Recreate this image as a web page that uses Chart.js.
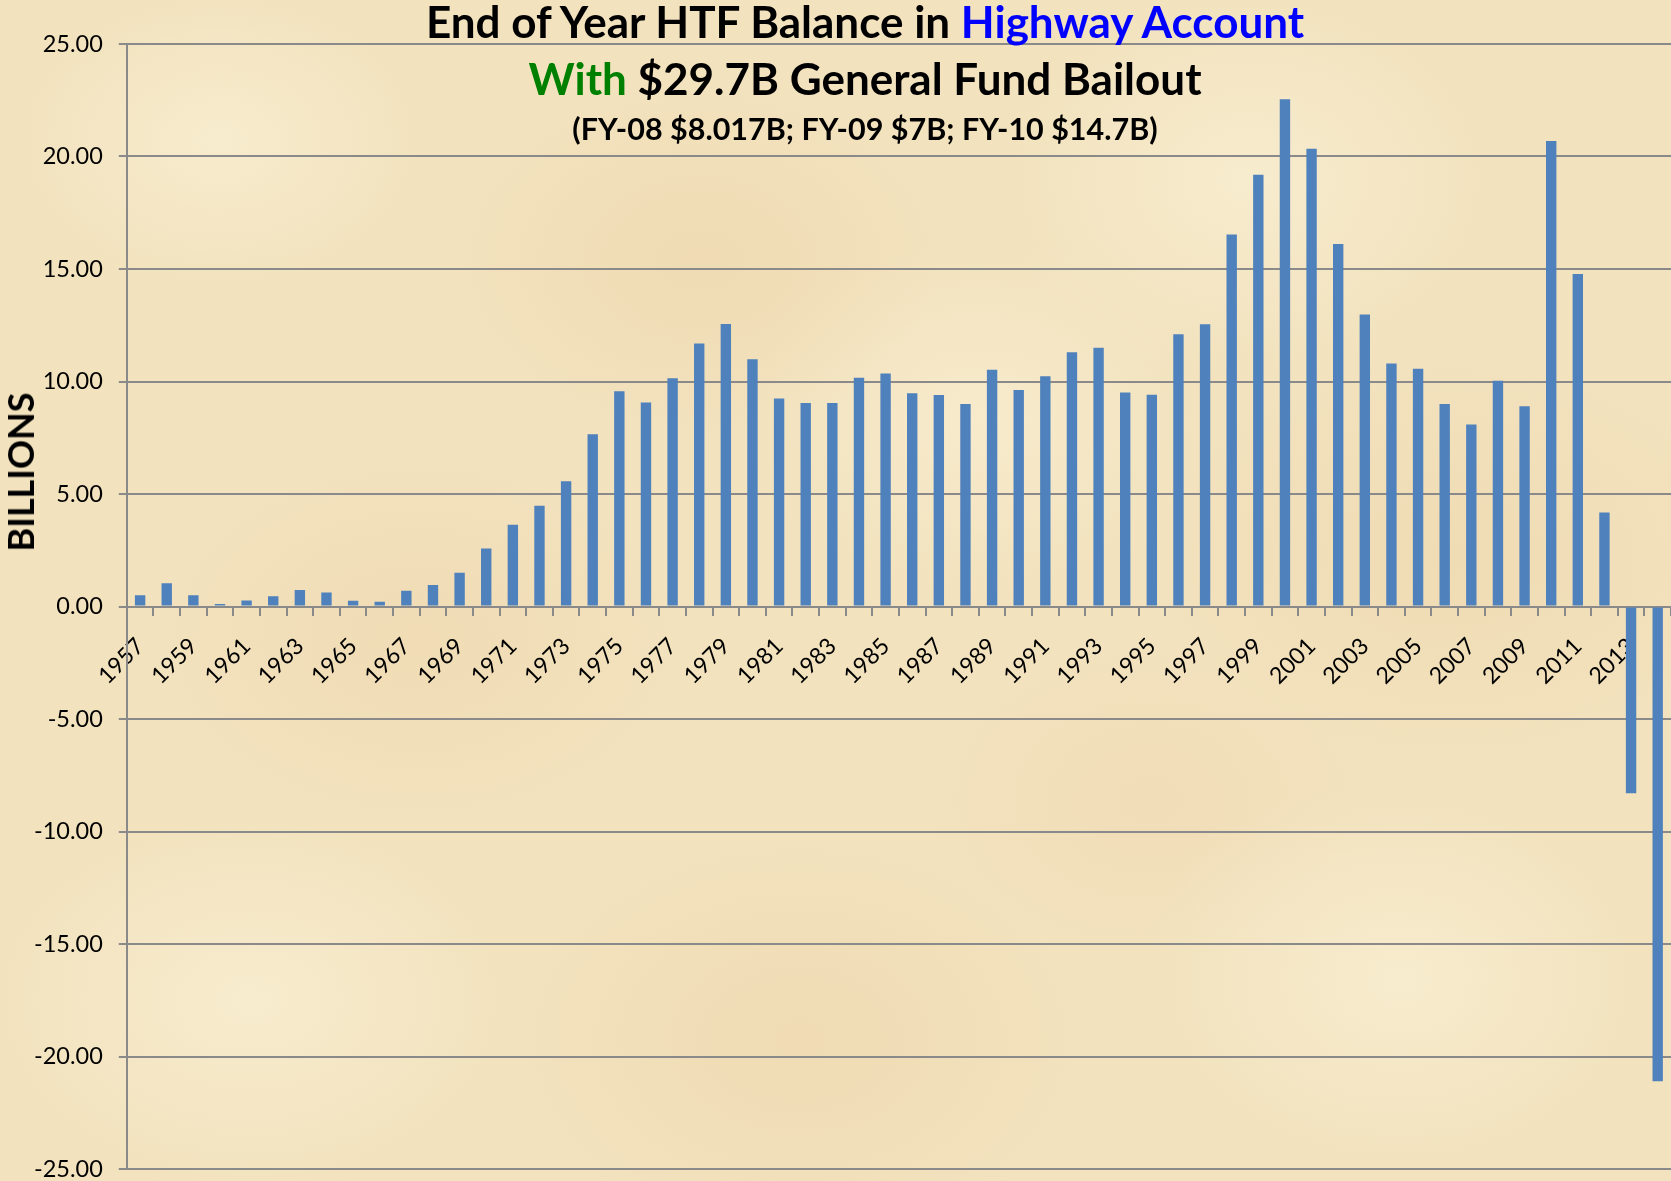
<!DOCTYPE html>
<html>
<head>
<meta charset="utf-8">
<script src="https://cdn.jsdelivr.net/npm/chart.js@4.4.1/dist/chart.umd.min.js"></script>
<style>
  html, body { margin: 0; padding: 0; }
  body {
    width: 1671px; height: 1181px; overflow: hidden;
    background-color: #f2e2bd;
    background-image:
      radial-gradient(ellipse 220px 160px at 220px 140px, rgba(248,237,208,0.9), transparent),
      radial-gradient(ellipse 240px 170px at 700px 260px, rgba(236,210,166,0.45), transparent),
      radial-gradient(ellipse 260px 200px at 1250px 180px, rgba(248,237,208,0.9), transparent),
      radial-gradient(ellipse 260px 180px at 420px 640px, rgba(238,212,170,0.45), transparent),
      radial-gradient(ellipse 240px 180px at 980px 420px, rgba(248,236,206,0.9), transparent),
      radial-gradient(ellipse 300px 200px at 1450px 560px, rgba(236,210,166,0.4), transparent),
      radial-gradient(ellipse 280px 200px at 250px 1000px, rgba(248,237,208,0.9), transparent),
      radial-gradient(ellipse 280px 200px at 800px 1040px, rgba(237,211,168,0.45), transparent),
      radial-gradient(ellipse 260px 200px at 1400px 980px, rgba(248,237,208,0.9), transparent),
      radial-gradient(ellipse 220px 160px at 1150px 800px, rgba(240,214,178,0.4), transparent);
    position: relative;
  }
  #wrap { position: absolute; left: 0; top: 0; width: 1671px; height: 1181px; }
  .ttl {
    position: absolute; transform: translate(-50%, -50%);
    white-space: nowrap; font-family: Lato, "Open Sans", sans-serif; font-weight: bold;
    line-height: 1; color: #000;
  }
</style>
</head>
<body>
<div id="wrap">
  <canvas id="htfChart" width="1671" height="1181"></canvas>
  <div class="ttl" style="left:865px; top:21px; font-size:44px;">End of Year HTF Balance in <span style="color:#0000ff">Highway Account</span></div>
  <div class="ttl" style="left:865px; top:78px; font-size:44px;"><span style="color:#008000">With</span> $29.7B General Fund Bailout</div>
  <div class="ttl" style="left:865px; top:128px; font-size:30.5px;">(FY-08 $8.017B; FY-09 $7B; FY-10 $14.7B)</div>
  <div class="ttl" style="left:20px; top:472px; font-size:36px; transform: translate(-50%, -50%) rotate(-90deg);">BILLIONS</div>
</div>
<script>
const years = [
  "1957","1958","1959","1960","1961","1962","1963","1964","1965","1966",
  "1967","1968","1969","1970","1971","1972","1973","1974","1975","1976",
  "1977","1978","1979","1980","1981","1982","1983","1984","1985","1986",
  "1987","1988","1989","1990","1991","1992","1993","1994","1995","1996",
  "1997","1998","1999","2000","2001","2002","2003","2004","2005","2006",
  "2007","2008","2009","2010","2011","2012","2013","2014"
];

// end of year balance, billions $
const balances = [
  0.50, 1.03, 0.50, 0.11, 0.27, 0.46, 0.73, 0.62, 0.26, 0.21,
  0.70, 0.96, 1.50, 2.58, 3.63, 4.48, 5.57, 7.66, 9.57, 9.07,
  10.15, 11.69, 12.56, 10.99, 9.24, 9.04, 9.05, 10.17, 10.36, 9.48,
  9.40, 9.00, 10.52, 9.62, 10.23, 11.30, 11.50, 9.51, 9.41, 12.10,
  12.55, 16.53, 19.19, 22.54, 20.35, 16.11, 12.98, 10.80, 10.57, 9.00,
  8.09, 10.03, 8.90, 20.69, 14.78, 4.18, -8.30, -21.10
];

const yTickValues = [-25, -20, -15, -10, -5, 0, 5, 10, 15, 20, 25];

const gridGray = "#8a8a8a";

const ctx = document.getElementById("htfChart").getContext("2d");
const chart = new Chart(ctx, {
  type: "bar",
  data: {
    labels: years,
    datasets: [{
      data: balances,
      backgroundColor: "#4f81bd",
      barPercentage: 0.39,
      categoryPercentage: 1.0
    }]
  },
  options: {
    responsive: false,
    animation: false,
    layout: { padding: { left: 18, top: 44, right: 0, bottom: 12 } },
    plugins: {
      legend: { display: false },
      title: { display: false },
      tooltip: { enabled: false }
    },
    scales: {
      x: {
        position: { y: 0 },
        afterFit: function (scale) {
          // labels may hang outside the plot, like in Excel
          scale.paddingLeft = 0;
          scale.paddingRight = 0;
        },
        grid: {
          display: true, drawOnChartArea: false, drawTicks: true,
          tickLength: 8, color: gridGray, lineWidth: 2, offset: true
        },
        border: { display: true, color: gridGray, width: 2 },
        ticks: {
          autoSkip: false, minRotation: 45, maxRotation: 45, padding: 18,
          color: "#000", font: { family: "Lato", size: 23 },
          callback: function (val, i) {
            return i % 2 === 0 ? this.getLabelForValue(val) : "";
          }
        }
      },
      y: {
        min: -25, max: 25,
        afterBuildTicks: function (scale) {
          scale.ticks = yTickValues.map(v => ({ value: v }));
        },
        afterFit: function (scale) {
          scale.paddingTop = 0;
          scale.paddingBottom = 0;
        },
        grid: { color: gridGray, lineWidth: 2, tickLength: 8, drawTicks: true },
        border: { display: true, color: gridGray, width: 2 },
        ticks: {
          padding: 16, color: "#000", font: { family: "Lato", size: 23.5 },
          callback: v => v.toFixed(2)
        }
      }
    }
  }
});
</script>
</body>
</html>
